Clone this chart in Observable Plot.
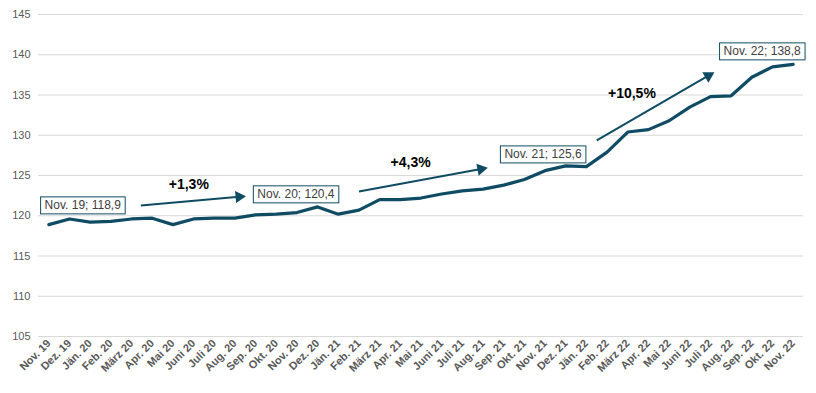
<!DOCTYPE html>
<html>
<head>
<meta charset="utf-8">
<script src="https://cdn.jsdelivr.net/npm/d3@7"></script>
<script src="https://cdn.jsdelivr.net/npm/@observablehq/plot@0.6"></script>
<style>
  html, body { margin: 0; padding: 0; background: #fff; }
  #chart { width: 816px; height: 393px; }
</style>
</head>
<body>
<div id="chart"></div>
<script>
const months = ["Nov. 19","Dez. 19","Jän. 20","Feb. 20","März 20","Apr. 20","Mai 20","Juni 20","Juli 20","Aug. 20","Sep. 20","Okt. 20","Nov. 20","Dez. 20","Jän. 21","Feb. 21","März 21","Apr. 21","Mai 21","Juni 21","Juli 21","Aug. 21","Sep. 21","Okt. 21","Nov. 21","Dez. 21","Jän. 22","Feb. 22","März 22","Apr. 22","Mai 22","Juni 22","Juli 22","Aug. 22","Sep. 22","Okt. 22","Nov. 22"];
const values = [118.9, 119.6, 119.2, 119.3, 119.6, 119.7, 118.9, 119.6, 119.7, 119.7, 120.1, 120.2, 120.4, 121.1, 120.2, 120.7, 122.0, 122.0, 122.2, 122.7, 123.1, 123.3, 123.8, 124.5, 125.6, 126.2, 126.1, 127.9, 130.4, 130.7, 131.8, 133.5, 134.8, 134.9, 137.2, 138.5, 138.8];
const yTicks = [105, 110, 115, 120, 125, 130, 135, 140, 145];

// annotation callouts (x in month index, y in index value)
const boxTexts = ["Nov. 19; 118,9", "Nov. 20; 120,4", "Nov. 21; 125,6", "Nov. 22; 138,8"];
const boxX = [1.64, 11.95, 23.9, 34.5];
const boxY = [121.27, 122.64, 127.6, 140.4];

const pctTexts = ["+1,3%", "+4,3%", "+10,5%"];
const pctX = [6.77, 17.5, 28.2];
const pctY = [123.9, 126.6, 135.2];

const arrowX1 = [4.45, 15.0, 26.5];
const arrowY1 = [121.27, 123.0, 129.35];
const arrowX2 = [9.2, 20.9, 31.9];
const arrowY2 = [122.36, 125.8, 137.4];

const data = months.map((m, i) => ({ i, m, v: values[i] }));
const boxes = boxTexts.map((t, k) => ({ t, x: boxX[k], y: boxY[k] }));
const pcts = pctTexts.map((t, k) => ({ t, x: pctX[k], y: pctY[k] }));
const arrows = arrowX1.map((x1, k) => ({ x1, y1: arrowY1[k], x2: arrowX2[k], y2: arrowY2[k] }));

const teal = "#0f4c63";

const opts = {
  width: 816,
  height: 393,
  marginLeft: 38,
  marginRight: 13,
  marginTop: 14,
  marginBottom: 57,
  x: { type: "linear", domain: [-0.5, 36.5] },
  y: { domain: [105, 145] }
};

// compute screen angle of each arrow from the library's own scales
const probe = Plot.plot({ ...opts, marks: [Plot.ruleY([105])] });
const sx = probe.scale("x"), sy = probe.scale("y");
const xs = d3.scaleLinear(sx.domain, sx.range), ys = d3.scaleLinear(sy.domain, sy.range);
arrows.forEach(a => {
  const dx = xs(a.x2) - xs(a.x1), dy = ys(a.y2) - ys(a.y1);
  a.rot = Math.atan2(dy, dx) * 180 / Math.PI + 90;
});

const chart = Plot.plot({
  ...opts,
  style: { fontFamily: "'Liberation Sans', Arial, sans-serif", background: "#fff", overflow: "visible" },
  marks: [
    Plot.gridY(yTicks, { stroke: "#d9d9d9", strokeOpacity: 1, strokeWidth: 1 }),
    Plot.axisY(yTicks, { tickSize: 0, tickPadding: 8, fontSize: 11, fill: "#595959", tickFormat: d => String(d) }),
    Plot.axisX(d3.range(months.length), {
      tickFormat: i => months[i], tickRotate: -45, tickSize: 0, tickPadding: 5,
      fontSize: 11, fontWeight: "bold", fill: "#595959", label: null
    }),
    Plot.line(data, { x: "i", y: "v", stroke: teal, strokeWidth: 3.2, strokeLinejoin: "round" }),
    Plot.link(arrows, { x1: "x1", y1: "y1", x2: "x2", y2: "y2", stroke: teal, strokeWidth: 2 }),
    Plot.dot(arrows, { x: "x2", y: "y2", symbol: "triangle", rotate: "rot", r: 4.5, fill: teal, stroke: "none" }),
    Plot.text(pcts, { x: "x", y: "y", text: "t", fontWeight: "bold", fontSize: 14, fill: "#000" }),
    Plot.text(boxes, { x: "x", y: "y", text: "t", fontSize: 12, fill: "#404040", className: "boxlabel" })
  ]
});

document.getElementById("chart").appendChild(chart);

// draw callout frames behind the value labels
const ns = "http://www.w3.org/2000/svg";
chart.querySelectorAll("g.boxlabel text").forEach(t => {
  const b = t.getBBox();
  const r = document.createElementNS(ns, "rect");
  r.setAttribute("x", b.x - 4);
  r.setAttribute("y", b.y - 1.5);
  r.setAttribute("width", b.width + 8);
  r.setAttribute("height", b.height + 3);
  r.setAttribute("fill", "#fff");
  r.setAttribute("stroke", teal);
  r.setAttribute("stroke-width", 1);
  if (t.getAttribute("transform")) r.setAttribute("transform", t.getAttribute("transform"));
  t.parentNode.insertBefore(r, t);
});
</script>
</body>
</html>
